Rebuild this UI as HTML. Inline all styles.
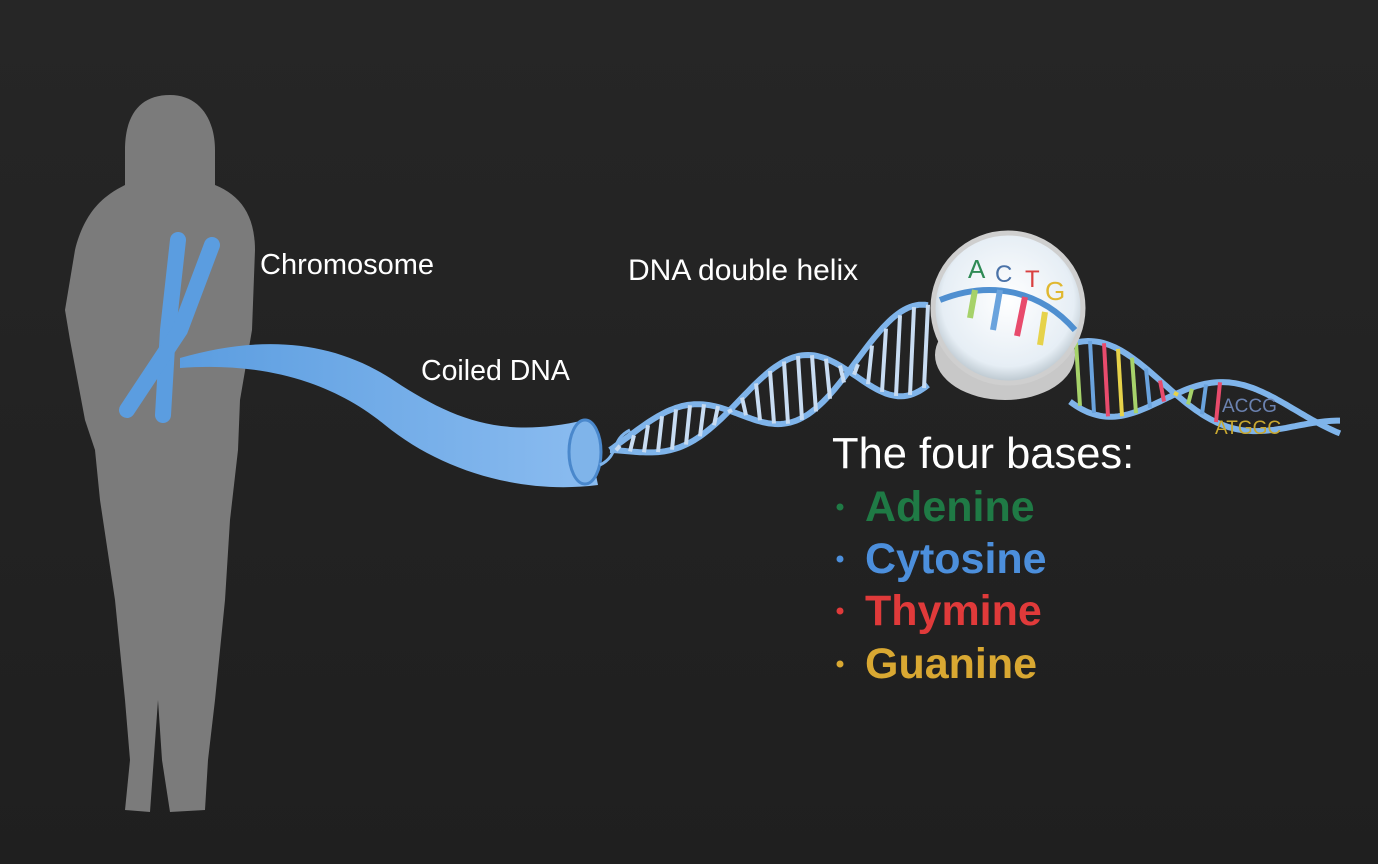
<!DOCTYPE html>
<html><head><meta charset="utf-8"><style>
html,body{margin:0;padding:0;background:#242424;}
svg{display:block}
text{font-family:"Liberation Sans",sans-serif}
</style></head><body>
<svg width="1378" height="864" viewBox="0 0 1378 864">
<defs>
<linearGradient id="bg" x1="0" y1="0" x2="0" y2="1"><stop offset="0" stop-color="#262626"/><stop offset="1" stop-color="#1f1f1f"/></linearGradient>
<linearGradient id="coil" x1="0" y1="0" x2="1" y2="0"><stop offset="0" stop-color="#5b9de0"/><stop offset="1" stop-color="#8bbcf0"/></linearGradient>
<radialGradient id="lens" cx="0.5" cy="0.45" r="0.55"><stop offset="0" stop-color="#ffffff"/><stop offset="0.8" stop-color="#e6eef5"/><stop offset="1" stop-color="#b8c4cc"/></radialGradient>
</defs>
<rect width="1378" height="864" fill="url(#bg)"/>
<g fill="#7b7b7b">
<path d="M170 95 C200 95 215 120 215 150 L215 185 C240 195 255 215 255 250 L252 330 L240 400 L238 450 L230 520 L225 600 L215 700 L208 760 L205 810 L170 812 L162 760 L158 700 L150 812 L125 810 L130 760 L125 700 L115 600 L100 500 L95 450 L85 420 L70 340 L65 310 L75 250 C85 210 105 195 125 185 L125 150 C125 115 140 95 170 95 Z"/>
</g>
<g stroke="#5b9de0" stroke-linecap="round" fill="none">
<path d="M178 240 L168 330 L163 415" stroke-width="16"/>
<path d="M212 245 L180 330 L127 410" stroke-width="16"/>
</g>
<path d="M180 358 C260 335 330 340 390 378 C450 418 500 440 585 420 L598 485 C520 495 440 470 385 425 C330 380 260 362 180 368 Z" fill="url(#coil)"/>
<ellipse cx="585" cy="452" rx="16" ry="32" fill="#7fb4ea" stroke="#4a88cc" stroke-width="3"/>
<path d="M600 465 C620 455 610 440 630 430" stroke="#7fb4ea" stroke-width="3" fill="none"/>
<g id="helix"></g>
<g>
<ellipse cx="1005" cy="355" rx="70" ry="45" fill="#c8c8c8"/>
<circle cx="1008" cy="308" r="75" fill="url(#lens)" stroke="#cfcfcf" stroke-width="5"/>
<path d="M940 300 C990 280 1040 290 1075 330" stroke="#4f8fd0" stroke-width="6" fill="none"/>
<g stroke-width="6"><line x1="975" y1="290" x2="970" y2="318" stroke="#a6d26a"/><line x1="1000" y1="290" x2="993" y2="330" stroke="#6aa3dd"/><line x1="1025" y1="297" x2="1017" y2="336" stroke="#e84b6c"/><line x1="1045" y1="312" x2="1040" y2="345" stroke="#e6d24a"/></g>
<text x="968" y="278" font-size="26" fill="#2e8a55">A</text>
<text x="995" y="282" font-size="24" fill="#4a72a8">C</text>
<text x="1025" y="287" font-size="24" fill="#d94040">T</text>
<text x="1045" y="300" font-size="26" fill="#e0b830">G</text>
</g>
<text x="1222" y="412" font-size="19" fill="#6b82b0">ACCG</text>
<text x="1215" y="434" font-size="19" fill="#c9a830">ATGGC</text>
<g fill="#ffffff">
<text x="260" y="274" font-size="29">Chromosome</text>
<text x="421" y="380" font-size="28.5">Coiled DNA</text>
<text x="628" y="280" font-size="30">DNA double helix</text>
</g>
<text x="832" y="468" font-size="43.5" fill="#ffffff">The four bases:</text>
<g font-size="43" font-weight="bold">
<circle cx="840" cy="507" r="3.5" fill="#1f7a45"/><text x="865" y="521" fill="#1f7a45">Adenine</text>
<circle cx="840" cy="559" r="3.5" fill="#4c8fdc"/><text x="865" y="573" fill="#4c8fdc">Cytosine</text>
<circle cx="840" cy="611" r="3.5" fill="#e03a3a"/><text x="865" y="625" fill="#e03a3a">Thymine</text>
<circle cx="840" cy="664" r="3.5" fill="#d9a832"/><text x="865" y="678" fill="#d9a832">Guanine</text>
</g>
</svg>
<script>
const ns="http://www.w3.org/2000/svg";
const g=document.getElementById('helix');
function cy(x){ if(x<930) return 450-(x-610)*0.33; return 345+(x-930)*0.2; }
function amp(x){return x<930?14+(x-610)*0.1:Math.max(10,40-(x-1070)*0.1);}
const segs=[[610,930],[1070,1340]];
const cols=['#a6d26a','#6aa3dd','#e84b6c','#e6d24a'];
segs.forEach((s,si)=>{
 for(let k=0;k<2;k++){
  let d='';
  for(let x=s[0];x<=s[1];x+=3){
   const y=cy(x)+(k?-1:1)*amp(x)*Math.sin((x-610)/(si?45:38));
   d+=(d?'L':'M')+x+' '+y.toFixed(1);
  }
  const p=document.createElementNS(ns,'path');
  p.setAttribute('d',d);p.setAttribute('stroke','#7fb4ea');p.setAttribute('stroke-width','6');p.setAttribute('fill','none');
  
  
  g.appendChild(p);
 }
 for(let x=s[0]+6,i=0;x<s[1]-(si?110:0);x+=14,i++){
  const a=amp(x)*Math.sin((x-610)/(si?45:38));
  const l=document.createElementNS(ns,'line');
  l.setAttribute('x1',x);l.setAttribute('x2',x+4);
  l.setAttribute('y1',cy(x)+a);l.setAttribute('y2',cy(x)-a);
  l.setAttribute('stroke',si?cols[i%4]:'#c8dcf2');l.setAttribute('stroke-width','4');
  
  
  g.appendChild(l);
 }
});
</script>
</body></html>
